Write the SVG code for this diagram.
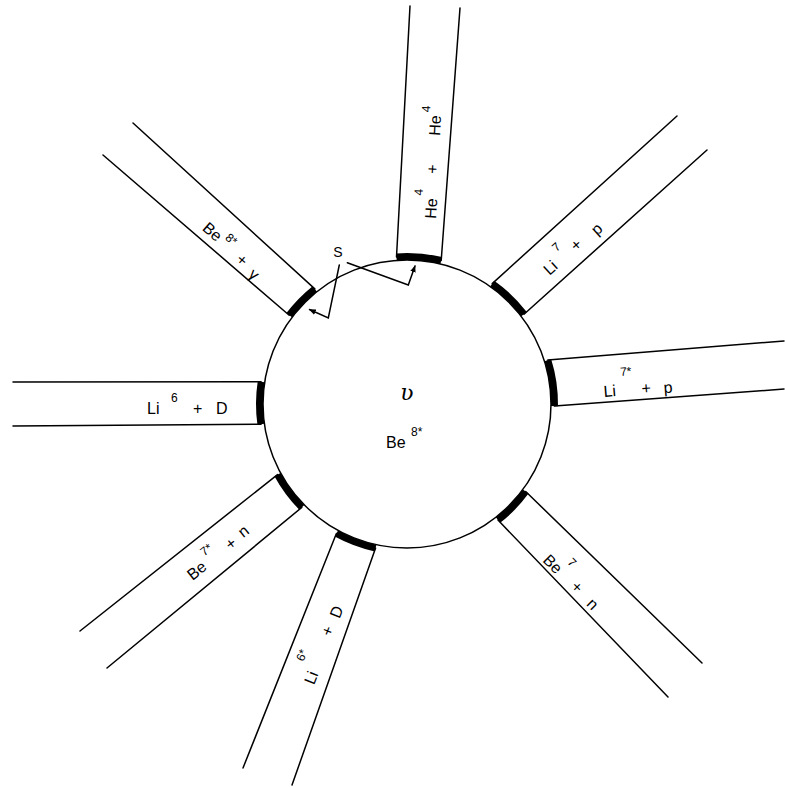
<svg xmlns="http://www.w3.org/2000/svg" width="785" height="787" viewBox="0 0 785 787">
<style>
.w{stroke:#000;stroke-width:1.5;fill:none;stroke-linecap:round}
.bar{stroke:#000;stroke-width:7;fill:none}
text{font-family:"Liberation Sans","DejaVu Sans",sans-serif;fill:#000}
.lb{font-size:16px}
.sp{font-size:12px}
</style>
<defs>
<marker id="ah" viewBox="0 0 10 10" refX="9" refY="5" markerWidth="7" markerHeight="7" orient="auto" markerUnits="userSpaceOnUse">
<path d="M0,1 L10,5 L0,9 Z" fill="#000"/>
</marker>
</defs>
<rect width="785" height="787" fill="#fff"/>

<g id="nucleus">
<circle cx="407" cy="404" r="144" class="w"/>
<text x="407" y="400" text-anchor="middle" style="font-family:'DejaVu Serif',serif;font-style:italic;font-size:22px">ʋ</text>
<text class="lb" x="386" y="448">Be<tspan class="sp" x="411" y="436">8*</tspan></text>
</g>

<g id="ch-he4-he4">
<line class="w" x1="396.5" y1="256.9" x2="410" y2="6"/>
<line class="w" x1="441.2" y1="260.5" x2="460" y2="8"/>
<path class="bar" d="M396.45,256.9 A147.5,147.5 0 0 1 441.2,260.5"/>
<text class="lb" transform="translate(436,219) rotate(-86.8)">He<tspan class="sp" x="22.5" y="-14.7">4</tspan><tspan x="45" y="-1">+</tspan><tspan x="83" y="-0.7">He</tspan><tspan class="sp" x="106" y="-12">4</tspan></text>
</g>

<g id="ch-li7-p">
<line class="w" x1="492.2" y1="283.6" x2="677" y2="116"/>
<line class="w" x1="524" y1="314.2" x2="707" y2="150"/>
<path class="bar" d="M492.2,283.6 A147.5,147.5 0 0 1 524,314.2"/>
<text class="lb" transform="translate(549.5,276) rotate(-42)">Li<tspan class="sp" x="21" y="-13">7</tspan><tspan x="36" y="0">+</tspan><tspan x="62" y="2">p</tspan></text>
</g>

<g id="ch-li7s-p">
<line class="w" x1="547.8" y1="360.1" x2="784" y2="341"/>
<line class="w" x1="554.5" y1="406.1" x2="784" y2="389"/>
<path class="bar" d="M547.8,360.1 A147.5,147.5 0 0 1 554.5,406.1"/>
<text class="lb" transform="translate(604,397) rotate(-4.6)">Li<tspan class="sp" x="18" y="-19.5">7*</tspan><tspan x="38" y="0">+</tspan><tspan x="60" y="1">p</tspan></text>
</g>

<g id="ch-be7-n">
<line class="w" x1="525.7" y1="491.5" x2="702" y2="663"/>
<line class="w" x1="498" y1="520.1" x2="668" y2="697"/>
<path class="bar" d="M525.7,491.5 A147.5,147.5 0 0 1 498,520.1"/>
<text class="lb" transform="translate(542,561) rotate(45)">Be<tspan class="sp" x="19" y="-16">7</tspan><tspan x="38.5" y="-1">+</tspan><tspan x="62" y="0">n</tspan></text>
</g>

<g id="ch-li6s-d">
<line class="w" x1="375.6" y1="548.1" x2="292" y2="785"/>
<line class="w" x1="336.4" y1="533.5" x2="243" y2="768"/>
<path class="bar" d="M375.6,548.1 A147.5,147.5 0 0 1 336.4,533.5"/>
<text class="lb" transform="translate(314,685.5) rotate(-68.3)">Li<tspan class="sp" x="18" y="-18.5">6*</tspan><tspan x="51" y="-2.3">+</tspan><tspan x="71" y="-0.7">D</tspan></text>
</g>

<g id="ch-be7s-n">
<line class="w" x1="301.8" y1="507.4" x2="107" y2="668"/>
<line class="w" x1="277.5" y1="474.6" x2="80" y2="631"/>
<path class="bar" d="M301.8,507.4 A147.5,147.5 0 0 1 277.5,474.6"/>
<text class="lb" transform="translate(192.5,581) rotate(-38.4)">Be<tspan class="sp" x="24.5" y="-12">7*</tspan><tspan x="48.5" y="0">+</tspan><tspan x="66.5" y="-2">n</tspan></text>
</g>

<g id="ch-li6-d">
<line class="w" x1="261" y1="381.7" x2="13" y2="382"/>
<line class="w" x1="261" y1="424.3" x2="13" y2="426"/>
<path class="bar" d="M260.9,424.3 A147.5,147.5 0 0 1 261.2,381.7"/>
<text class="lb" x="147" y="414">Li<tspan class="sp" x="171" y="402">6</tspan><tspan x="193" y="414">+</tspan><tspan x="216" y="414">D</tspan></text>
</g>

<g id="ch-be8s-gamma">
<line class="w" x1="314.8" y1="288.9" x2="133" y2="123"/>
<line class="w" x1="289.2" y1="315.2" x2="103" y2="155"/>
<path class="bar" d="M289.2,315.2 A147.5,147.5 0 0 1 314.8,288.9"/>
<text class="lb" transform="translate(201.5,229.5) rotate(40.7)">Be<tspan class="sp" x="23.5" y="-8">8*</tspan><tspan x="46" y="2">+</tspan><tspan x="65" y="5">γ</tspan></text>
</g>

<g id="connectors">
<text x="338" y="257" text-anchor="middle" style="font-size:14px">S</text>
<polyline class="w" points="339.3,265 328.3,318 309.5,309.5" marker-end="url(#ah)"/>
<polyline class="w" points="347.3,262.7 408.3,285 415,266" marker-end="url(#ah)"/>
</g>
</svg>
